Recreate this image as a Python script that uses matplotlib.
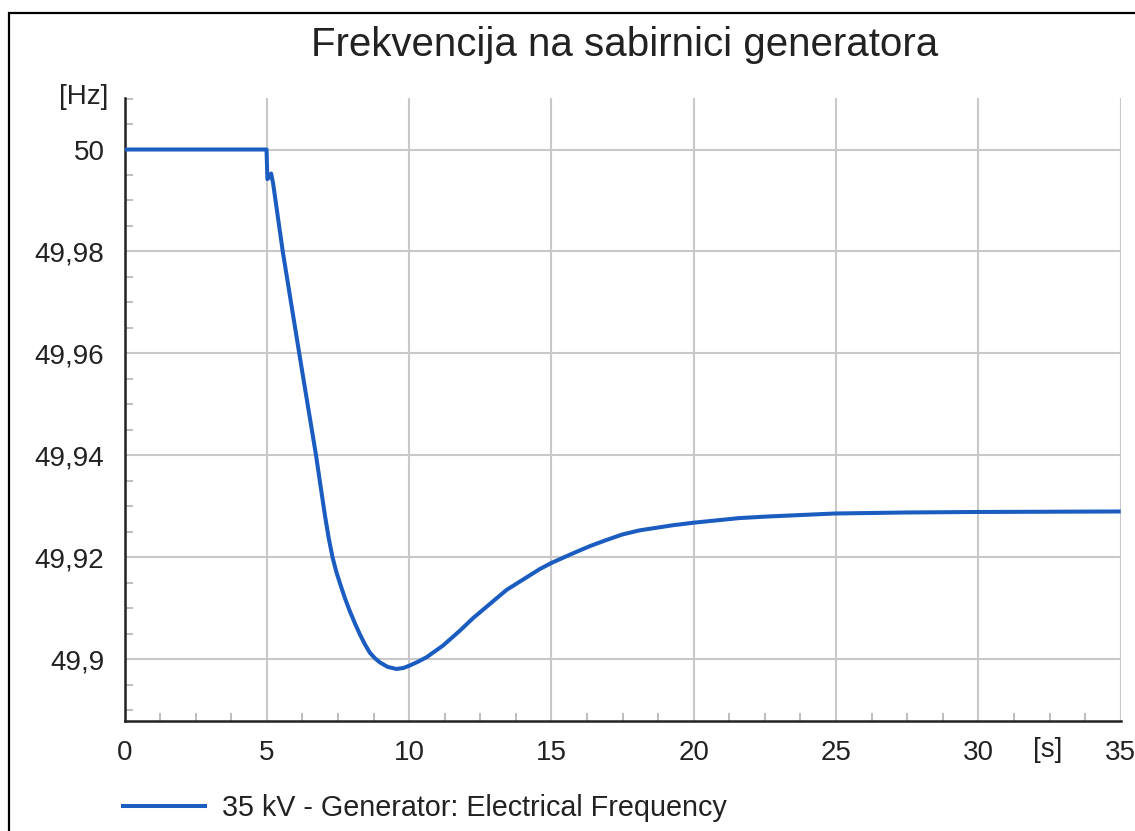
import matplotlib
matplotlib.use("Agg")
import matplotlib.pyplot as plt
from matplotlib.ticker import FixedLocator, FuncFormatter
from matplotlib.patches import Rectangle
from matplotlib.transforms import blended_transform_factory

# Simulation time [s] and generator bus frequency [Hz]
time_s = [0.0, 4.99, 5.02, 5.10, 5.15, 5.22, 5.56, 5.85, 6.14, 6.44, 6.73,
          6.88, 7.04, 7.18, 7.31, 7.44, 7.57, 7.75, 7.92, 8.10, 8.27, 8.45,
          8.62, 8.80, 8.97, 9.25, 9.56, 9.80, 10.03, 10.30, 10.61, 11.19,
          11.78, 12.25, 13.42, 14.59, 15.00, 15.76, 16.35, 16.93, 17.50,
          18.10, 19.27, 20.00, 21.60, 22.55, 24.95, 27.46, 29.96, 35.0]
freq_hz = [50.0, 50.0, 49.9942, 49.9946, 49.9953, 49.9934, 49.9800, 49.9700,
           49.9600, 49.9498, 49.9400, 49.9343, 49.9283, 49.9236, 49.9200,
           49.9172, 49.9149, 49.9119, 49.9094, 49.9070, 49.9049, 49.9029,
           49.9013, 49.9002, 49.8994, 49.8985, 49.8981, 49.8983, 49.8988,
           49.8995, 49.9004, 49.9027, 49.9056, 49.9081, 49.9136, 49.9177,
           49.9189, 49.9208, 49.9222, 49.9234, 49.9245, 49.9253, 49.9263,
           49.9268, 49.9277, 49.9280, 49.9286, 49.9288, 49.9289, 49.9290]

x_major = [0, 5, 10, 15, 20, 25, 30, 35]
y_major = [49.90, 49.92, 49.94, 49.96, 49.98, 50.00]
y_labels = ["49,9", "49,92", "49,94", "49,96", "49,98", "50"]
x_minor = [1.25, 2.5, 3.75, 6.25, 7.5, 8.75, 11.25, 12.5, 13.75, 16.25,
           17.5, 18.75, 21.25, 22.5, 23.75, 26.25, 27.5, 28.75, 31.25,
           32.5, 33.75]
y_minor = [49.89, 49.895, 49.905, 49.91, 49.915, 49.925, 49.93, 49.935,
           49.945, 49.95, 49.955, 49.965, 49.97, 49.975, 49.985, 49.99,
           49.995, 50.005, 50.01]

title = "Frekvencija na sabirnici generatora"
series_name = "35 kV - Generator: Electrical Frequency"

plt.rcParams["font.family"] = ["Liberation Sans", "DejaVu Sans"]

W, H = 1135, 831
fig = plt.figure(figsize=(W / 100, H / 100), dpi=100)
fig.patch.set_facecolor("white")

ax = fig.add_axes([124.5 / W, 1 - 721 / H, (1120.7 - 124.5) / W, (721 - 97.5) / H])

line_color = "#1a5cc0"
grid_color = "#c8c8c8"
text_color = "#222222"

ax.plot(time_s, freq_hz, color=line_color, lw=2.9, solid_joinstyle="round",
        solid_capstyle="butt", label=series_name, zorder=3)

ax.set_xlim(0, 35)
ax.set_ylim(49.8879, 50.0102)

ax.xaxis.set_major_locator(FixedLocator(x_major))
ax.yaxis.set_major_locator(FixedLocator(y_major))
ax.xaxis.set_minor_locator(FixedLocator(x_minor))
ax.yaxis.set_minor_locator(FixedLocator(y_minor))
ax.set_yticklabels(y_labels)
ax.xaxis.set_major_formatter(FuncFormatter(lambda v, p: f"{v:g}"))

ax.grid(True, which="major", color=grid_color, lw=1.5, zorder=0)
ax.tick_params(which="major", length=0, labelsize=20, labelcolor=text_color)
ax.tick_params(axis="y", which="major", pad=14.5)
ax.tick_params(axis="x", which="major", pad=14)
ax.tick_params(which="minor", direction="in", length=6, width=1.3,
               color="#b8b8b8")

for side in ("top", "right"):
    ax.spines[side].set_visible(False)
for side in ("left", "bottom"):
    ax.spines[side].set_color("#222222")
    ax.spines[side].set_linewidth(1.8)

# Unit labels
ax.text(-0.0165, 1.0, "[Hz]", transform=ax.transAxes, ha="right", va="center",
        fontsize=20, color=text_color)
bt = blended_transform_factory(ax.transData, ax.transAxes)
ax.text(32.45, -0.0262, "[s]", transform=bt, ha="center", va="top",
        fontsize=20, color=text_color)

fig.text(625 / W, 1 - 45 / H, title, ha="center", va="center", fontsize=29,
         color=text_color)

leg = fig.legend(loc="center left", bbox_to_anchor=(121 / W, 1 - 808 / H),
                 frameon=False, fontsize=20.7, handlelength=3.0,
                 handletextpad=0.5, borderaxespad=0, borderpad=0)
for t in leg.get_texts():
    t.set_color(text_color)

# Outer frame
fig.add_artist(Rectangle((9 / W, -0.5), 2.0, 1.5 - 13 / H,
                         transform=fig.transFigure, fill=False,
                         edgecolor="black", lw=1.6))

fig.savefig("out.png", dpi=100)
